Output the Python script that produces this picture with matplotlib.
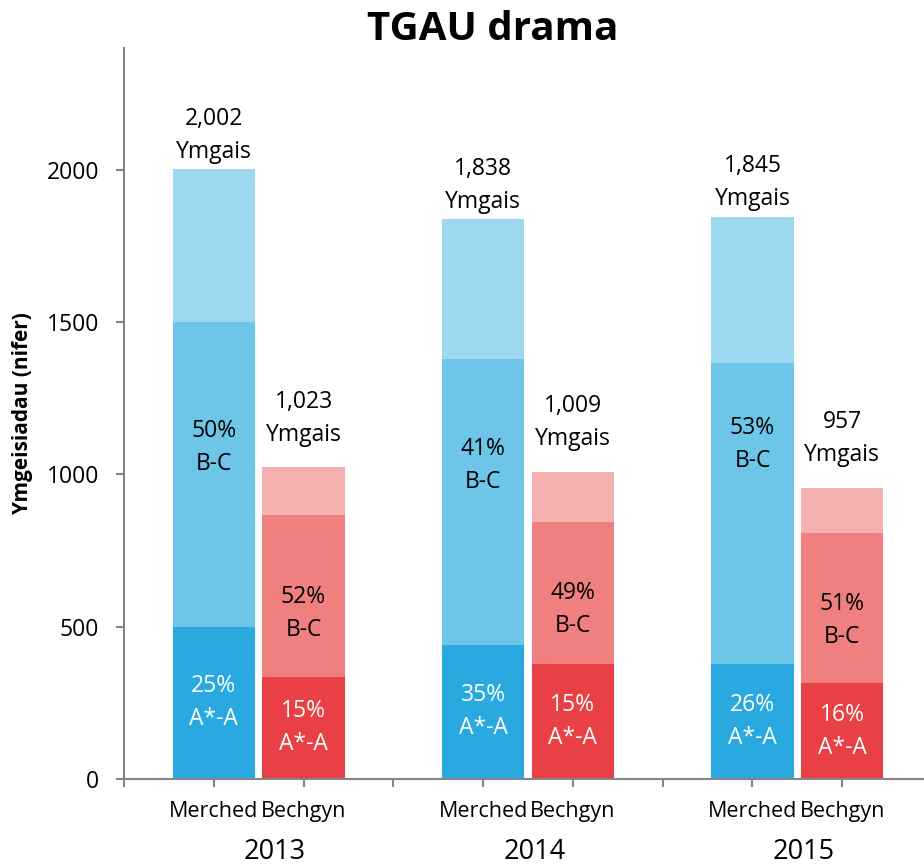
import matplotlib
matplotlib.use("Agg")
import matplotlib.pyplot as plt
import matplotlib.transforms as mtransforms

plt.rcParams['font.family'] = ['Open Sans', 'DejaVu Sans']

# data
years = ['2013', '2014', '2015']
year_label_x = [1.68, 4.58, 7.57]
groups = ['Merched', 'Bechgyn']
# segment heights (A*-A, B-C, rest) per bar, order: M13, B13, M14, B14, M15, B15
seg_a = [500, 335, 440, 378, 378, 315]
seg_bc = [1002, 532, 939, 466, 988, 493]
totals = [2002, 1023, 1838, 1009, 1845, 957]
pct_a = ['25%', '15%', '35%', '15%', '26%', '16%']
pct_bc = ['50%', '52%', '41%', '49%', '53%', '51%']
bc_label_y = [1090, 545, 1028, 555, 1097, 519]

blue = ['#29A9E0', '#6DC5E8', '#9DD8F0']
red = ['#E84044', '#F08080', '#F5B0B0']

fig = plt.figure(figsize=(9.24, 8.67), dpi=100)
ax = fig.add_axes([124/924, 1 - 779/867, 808/924, 731/867])

xpos = [1, 2, 4, 5, 7, 8]
width = 0.915
lsp = 1.5
for i, x in enumerate(xpos):
    cols = blue if i % 2 == 0 else red
    a = seg_a[i]
    bc = seg_bc[i]
    rest = totals[i] - a - bc
    ax.bar(x, a, width, color=cols[0], linewidth=0)
    ax.bar(x, bc, width, bottom=a, color=cols[1], linewidth=0)
    ax.bar(x, rest, width, bottom=a + bc, color=cols[2], linewidth=0)
    ax.text(x, a / 2, pct_a[i] + '\nA*-A', ha='center', va='center',
            color='white', fontsize=16.5, linespacing=lsp)
    ax.text(x, bc_label_y[i], pct_bc[i] + '\nB-C', ha='center', va='center',
            color='black', fontsize=16.5, linespacing=lsp)
    off = 4 if i % 2 == 0 else 15
    ax.annotate('{:,}\nYmgais'.format(totals[i]), (x, totals[i]),
                xytext=(0, off), textcoords='offset points',
                ha='center', va='bottom', fontsize=16.5, linespacing=lsp)

ax.set_xlim(0, 9)
ax.set_ylim(0, 2400)
ax.set_yticks([0, 500, 1000, 1500, 2000])
ax.set_xticks(range(0, 10))
xlabels = [''] * 10
for i, x in enumerate(xpos):
    xlabels[x] = groups[i % 2]
ax.set_xticklabels(xlabels, fontsize=15.5)

trans = mtransforms.blended_transform_factory(ax.transData, fig.transFigure)
for j, yr in enumerate(years):
    ax.text(year_label_x[j], 1 - 852/867, yr, transform=trans,
            ha='center', va='center', fontsize=19.5)

for s in ['top', 'right']:
    ax.spines[s].set_visible(False)
for s in ['left', 'bottom']:
    ax.spines[s].set_color('#868686')
    ax.spines[s].set_linewidth(1.5)
ax.tick_params(axis='both', direction='out', length=6, width=1.5,
               color='#868686')
ax.tick_params(axis='y', labelsize=16.5, pad=12)
ax.tick_params(axis='x', pad=10)

ax.set_ylabel('Ymgeisiadau (nifer)', fontsize=15, fontweight='bold',
              labelpad=10)
fig.text(493/924, 1 - 30/867, 'TGAU drama', ha='center', va='center',
         fontsize=29, fontweight='bold')

fig.savefig('out.png', dpi=100)
